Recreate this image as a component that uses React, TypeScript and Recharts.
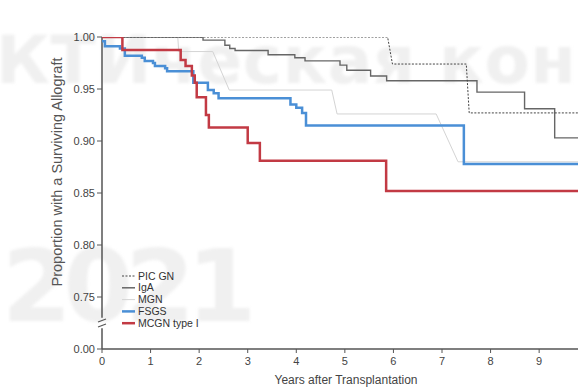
import React from "react";
import { LineChart, Line, XAxis, YAxis, ReferenceLine, ReferenceDot } from "recharts";

// ---- data (years after transplantation, proportion surviving) ----
const picGnTime = [0, 5.88, 5.98, 7.5, 7.56, 9.8];
const picGnSurv = [1.0, 1.0, 0.974, 0.974, 0.927, 0.927];

const igaTime = [0, 2.08, 2.53, 2.63, 2.74, 3.42, 3.97, 4.18, 4.9, 5.04, 5.53, 5.86, 7.72, 8.7, 9.32, 9.8];
const igaSurv = [1.0, 0.997, 0.992, 0.989, 0.987, 0.983, 0.98, 0.977, 0.973, 0.968, 0.9625, 0.958, 0.947, 0.931, 0.903, 0.903];

const mgnTime = [0, 1.56, 1.58, 2.28, 2.62, 4.73, 4.84, 6.88, 7.33, 9.8];
const mgnSurv = [1.0, 1.0, 0.986, 0.986, 0.949, 0.949, 0.926, 0.926, 0.88, 0.88];

const fsgsTime = [0, 0.06, 0.37, 0.47, 0.82, 0.88, 1.05, 1.09, 1.3, 1.34, 1.88, 2.18, 2.3, 2.4, 3.88, 4.0, 4.12, 4.2, 7.45, 9.8];
const fsgsSurv = [0.996, 0.991, 0.989, 0.982, 0.98, 0.977, 0.975, 0.972, 0.97, 0.967, 0.956, 0.949, 0.946, 0.941, 0.935, 0.932, 0.927, 0.915, 0.878, 0.878];

const mcgnTime = [0, 0.42, 1.62, 1.72, 1.85, 1.91, 1.95, 2.14, 2.2, 3.0, 3.25, 5.85, 9.8];
const mcgnSurv = [1.0, 0.9875, 0.978, 0.972, 0.963, 0.956, 0.942, 0.925, 0.913, 0.898, 0.881, 0.852, 0.852];

const xTicks = [0, 1, 2, 3, 4, 5, 6, 7, 8, 9];
const yTicks = [0.7, 0.75, 0.8, 0.85, 0.9, 0.95, 1.0];
const yBreakValue = 0.7; // shown as 0.00 below the axis break

const seriesNames = ["PIC GN", "IgA", "MGN", "FSGS", "MCGN type I"];

const toRows = (t: number[], s: number[]) => t.map((x, i) => ({ t: x, s: s[i] }));

const font = "'Liberation Sans', Arial, Helvetica, sans-serif";
const axisColor = "#555";

const legendStyle: Record<string, any> = {
  "PIC GN": { stroke: "#444", width: 1, dash: "2 1.5" },
  IgA: { stroke: "#666", width: 1.5, dash: undefined },
  MGN: { stroke: "#d4d4d4", width: 1, dash: undefined },
  FSGS: { stroke: "#4a8fd6", width: 2.5, dash: undefined },
  "MCGN type I": { stroke: "#c23a44", width: 2.5, dash: undefined },
};

const LegendBox = () => (
  <svg width={110} height={62} style={{ position: "absolute", left: 118, top: 270 }}>
    {seriesNames.map((n, i) => {
      const st = legendStyle[n];
      const y = 6 + i * 11.8;
      return (
        <g key={n}>
          <line x1={4} x2={17} y1={y} y2={y} stroke={st.stroke} strokeWidth={st.width} strokeDasharray={st.dash} />
          <text x={20} y={y + 3.6} fontSize={10.5} fill="#333" fontFamily={font}>
            {n}
          </text>
        </g>
      );
    })}
  </svg>
);

const BreakMark = (props: any) => {
  const { cx, cy } = props;
  if (cx == null || cy == null) return null;
  return (
    <g>
      <line x1={cx - 4} x2={cx + 4} y1={cy - 1} y2={cy - 4} stroke={axisColor} strokeWidth={1.2} />
      <line x1={cx - 4} x2={cx + 4} y1={cy + 4} y2={cy + 1} stroke={axisColor} strokeWidth={1.2} />
    </g>
  );
};

const YLabel = () => (
  <text x={62} y={172} transform="rotate(-90 62 172)" textAnchor="middle" fontSize={14.5} fill="#555" fontFamily={font}>
    Proportion with a Surviving Allograft
  </text>
);

const XLabel = () => (
  <text x={346} y={384} textAnchor="middle" fontSize={12} fill="#444" fontFamily={font}>
    Years after Transplantation
  </text>
);

export default function App() {
  return (
    <div style={{ position: "absolute", left: 0, top: 0, width: 578, height: 387, background: "#fff", overflow: "hidden" }}>
      <div
        style={{
          position: "absolute",
          left: -4,
          top: 22,
          fontFamily: "'DejaVu Sans', sans-serif",
          fontWeight: 700,
          fontSize: 66,
          color: "#f0f0f0",
          whiteSpace: "nowrap",
          letterSpacing: 0.5,
          filter: "blur(1.5px)",
        }}
      >
        КТИческая кон
      </div>
      <div
        style={{
          position: "absolute",
          left: 2,
          top: 228,
          fontFamily: "'DejaVu Sans', sans-serif",
          fontWeight: 700,
          fontSize: 100,
          color: "#f0f0f0",
          whiteSpace: "nowrap",
          letterSpacing: -8,
          filter: "blur(1.5px)",
        }}
      >
        2021
      </div>
      <div style={{ position: "absolute", left: 0, top: 0 }}>
        <LineChart width={578} height={387} margin={{ top: 37, right: 0, left: 0, bottom: 0 }}>
          <XAxis
            type="number"
            dataKey="t"
            domain={[0, 9.8]}
            ticks={xTicks}
            allowDataOverflow
            height={38}
            tickSize={4}
            tickMargin={4}
            tick={{ fontSize: 11, fill: "#444", fontFamily: font }}
            axisLine={{ stroke: axisColor, strokeWidth: 1.5 }}
            tickLine={{ stroke: axisColor }}
            label={<XLabel />}
          />
          <YAxis
            type="number"
            dataKey="s"
            domain={[0.7, 1.0]}
            ticks={yTicks}
            allowDataOverflow
            width={102}
            tickSize={5}
            tickMargin={2}
            tick={{ fontSize: 11, fill: "#444", fontFamily: font }}
            tickFormatter={(v: number) => (Math.abs(v - yBreakValue) < 1e-9 ? "0.00" : v.toFixed(2))}
            axisLine={false}
            tickLine={{ stroke: axisColor }}
            label={<YLabel />}
          />
          <ReferenceLine segment={[{ x: 0, y: 0.7 }, { x: 0, y: 0.72 }]} stroke={axisColor} strokeWidth={1.5} ifOverflow="visible" />
          <ReferenceLine segment={[{ x: 0, y: 0.73 }, { x: 0, y: 1.0 }]} stroke={axisColor} strokeWidth={1.5} ifOverflow="visible" />
          <ReferenceDot x={0} y={0.725} shape={<BreakMark />} ifOverflow="visible" />

          <Line data={toRows(mgnTime, mgnSurv)} dataKey="s" name="MGN" type="linear" stroke="#d4d4d4" strokeWidth={1} dot={false} isAnimationActive={false} />
          <Line data={toRows(igaTime, igaSurv)} dataKey="s" name="IgA" type="stepAfter" stroke="#666" strokeWidth={1.4} dot={false} isAnimationActive={false} />
          <Line data={toRows(picGnTime, picGnSurv)} dataKey="s" name="PIC GN" type="linear" stroke="#444" strokeWidth={1} strokeDasharray="2 1.5" dot={false} isAnimationActive={false} />
          <Line data={toRows(fsgsTime, fsgsSurv)} dataKey="s" name="FSGS" type="stepAfter" stroke="#4a8fd6" strokeWidth={2.5} dot={false} isAnimationActive={false} />
          <Line data={toRows(mcgnTime, mcgnSurv)} dataKey="s" name="MCGN type I" type="stepAfter" stroke="#c23a44" strokeWidth={2.5} dot={false} isAnimationActive={false} />
        </LineChart>
      </div>
      <LegendBox />
    </div>
  );
}
